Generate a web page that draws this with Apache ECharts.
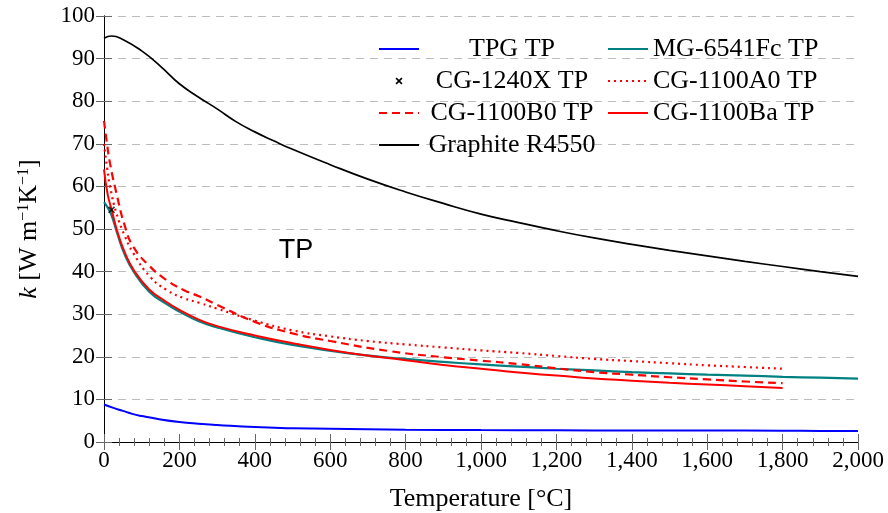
<!DOCTYPE html>
<html>
<head>
<meta charset="utf-8">
<script src="https://cdn.jsdelivr.net/npm/echarts@6/dist/echarts.min.js"></script>
<style>
  html, body { margin: 0; padding: 0; background: #fff; }
  #chart { width: 888px; height: 513px; }
</style>
</head>
<body>
<div id="chart"></div>
<script>
// 温度 [°C] 与导热系数 k [W/(m·K)]
const graphiteT = [0, 20, 50, 100, 150, 200, 250, 300, 350, 400, 450, 500, 600, 700, 800, 900, 1000, 1100, 1200, 1300, 1400, 1500, 1600, 1700, 1800, 1900, 2000]
const graphiteK = [94.8, 95.3, 94.5, 91.8, 88.2, 84.1, 81.0, 78.2, 75.2, 72.8, 70.7, 68.7, 65.1, 61.7, 58.7, 56.0, 53.5, 51.5, 49.6, 47.9, 46.4, 45.0, 43.7, 42.4, 41.2, 40.0, 38.9]

const tpgT = [0, 25, 50, 75, 100, 150, 200, 250, 300, 400, 500, 600, 800, 1000, 1200, 1400, 1600, 1800, 1900, 2000]
const tpgK = [8.8, 8.0, 7.3, 6.6, 6.1, 5.3, 4.7, 4.3, 4.0, 3.5, 3.25, 3.1, 2.9, 2.8, 2.75, 2.7, 2.7, 2.65, 2.6, 2.6]

const mgT = [0, 10, 20, 35, 55, 80, 120, 160, 200, 250, 300, 400, 500, 650, 800, 900, 1000, 1100, 1200, 1300, 1400, 1500, 1600, 1700, 1800, 1900, 2000]
const mgK = [56.3, 55.0, 53.2, 49.0, 44.0, 39.8, 35.3, 32.7, 30.6, 28.4, 26.9, 24.6, 22.8, 20.8, 19.5, 18.8, 18.2, 17.7, 17.2, 16.8, 16.4, 16.1, 15.8, 15.6, 15.3, 15.1, 14.9]

const cg1240xT = [20]
const cg1240xK = [54.5]

const a0T = [0, 8, 16, 33, 56, 78, 122, 166, 211, 255, 300, 400, 500, 600, 700, 800, 900, 1000, 1100, 1200, 1300, 1400, 1500, 1600, 1700, 1800]
const a0K = [70.0, 64.5, 60.0, 53.7, 48.2, 44.3, 38.8, 35.7, 33.8, 32.6, 31.3, 28.5, 26.2, 24.8, 23.7, 22.9, 22.2, 21.5, 20.9, 20.2, 19.5, 19.0, 18.5, 18.0, 17.6, 17.2]

const b0T = [0, 8, 16, 33, 56, 78, 122, 166, 211, 255, 300, 400, 500, 600, 760, 900, 1000, 1100, 1200, 1300, 1400, 1500, 1600, 1700, 1800]
const b0K = [75.4, 70.0, 65.4, 58.4, 50.5, 45.8, 41.2, 38.0, 35.7, 34.1, 32.2, 28.2, 25.5, 23.7, 21.3, 19.9, 19.1, 18.3, 17.3, 16.4, 15.8, 15.2, 14.7, 14.2, 13.8]

const baT = [0, 10, 20, 35, 55, 80, 120, 160, 200, 250, 300, 400, 500, 650, 800, 900, 1000, 1100, 1200, 1300, 1400, 1500, 1600, 1700, 1800]
const baK = [64.0, 58.0, 54.6, 49.5, 44.5, 40.2, 35.8, 33.2, 31.0, 28.8, 27.2, 25.0, 23.2, 20.9, 19.2, 18.1, 17.2, 16.3, 15.6, 14.9, 14.4, 13.9, 13.5, 13.1, 12.7]

const legendLeft = ['TPG TP', 'CG-1240X TP', 'CG-1100B0 TP', 'Graphite R4550']
const legendRight = ['MG-6541Fc TP', 'CG-1100A0 TP', 'CG-1100Ba TP']

const serif = 'Liberation Serif'
const zip = (xs, ys) => xs.map((x, i) => [x, ys[i]])
// 千分位格式：1,000
const fmtThousand = v => String(v).replace(/\B(?=(\d{3})+(?!\d))/g, ',')

// 粗叉号，外面留空白（M0,0 M16,16）以控制图例中的大小
const crossPath = 'path://M0,0M16,16M4,5.3L5.3,4L8,6.7L10.7,4L12,5.3L9.3,8L12,10.7L10.7,12L8,9.3L5.3,12L4,10.7L6.7,8Z'

function lineSeries(name, xs, ys, color, type, width) {
  return {
    name,
    type: 'line',
    data: zip(xs, ys),
    symbol: 'none',
    smooth: true,
    lineStyle: { color, width, type },
    itemStyle: { color },
  }
}

const legendBase = {
  orient: 'vertical',
  top: 31,
  itemWidth: 40,
  itemHeight: 14,
  itemGap: 6,
  selectedMode: false,
  // 隐藏折线图例中心的圆点
  itemStyle: { opacity: 0 },
}

const chartOptions = {
  animation: false,
  grid: { left: 104, right: 30, top: 16, bottom: 71, containLabel: false, outerBoundsMode: 'none' },
  legend: [
    {
      ...legendBase,
      left: 373,
      data: legendLeft.map(name => (name === 'CG-1240X TP' ? { name, itemStyle: { opacity: 1 } } : name)),
      formatter: name => '{c|' + name + '}',
      textStyle: {
        rich: { c: { width: 176, align: 'center', fontFamily: serif, fontSize: 26, lineHeight: 25, color: '#000' } },
      },
    },
    {
      ...legendBase,
      left: 602,
      data: legendRight,
      textStyle: { fontFamily: serif, fontSize: 26, lineHeight: 25, color: '#000' },
    },
  ],
  xAxis: [
    {
      type: 'value',
      min: 0,
      max: 2000,
      interval: 200,
      position: 'bottom',
      name: 'Temperature [°C]',
      nameLocation: 'middle',
      nameGap: 44,
      nameTextStyle: { fontFamily: serif, fontSize: 26, color: '#000' },
      axisLine: { lineStyle: { color: '#000', width: 1 } },
      axisTick: { inside: true, length: 8, lineStyle: { color: '#666' } },
      minorTick: { show: true, splitNumber: 5, length: 4, lineStyle: { color: '#666' } },
      axisLabel: { fontFamily: serif, fontSize: 23, color: '#000', margin: 7, formatter: fmtThousand },
      splitLine: { show: false },
    },
    {
      type: 'value',
      min: 0,
      max: 2000,
      interval: 200,
      position: 'top',
      axisLine: { lineStyle: { color: '#000', width: 1 } },
      axisTick: { inside: true, length: 8, lineStyle: { color: '#666' } },
      minorTick: { show: true, splitNumber: 5, length: 4, lineStyle: { color: '#666' } },
      axisLabel: { show: false },
      splitLine: { show: false },
    },
  ],
  yAxis: [
    {
      type: 'value',
      min: 0,
      max: 100,
      interval: 10,
      position: 'left',
      name: '{i|k} [W m{s|−1}K{s|−1}]',
      nameLocation: 'middle',
      nameRotate: 90,
      nameGap: 62,
      nameTextStyle: {
        fontFamily: serif,
        fontSize: 26,
        color: '#000',
        rich: {
          i: { fontFamily: serif, fontSize: 26, fontStyle: 'italic', color: '#000' },
          s: { fontFamily: serif, fontSize: 16, color: '#000', verticalAlign: 'top', padding: [0, 0, 10, 0] },
        },
      },
      axisLine: { lineStyle: { color: '#000', width: 1 } },
      axisTick: { inside: true, length: 8, lineStyle: { color: '#666' } },
      axisLabel: { fontFamily: serif, fontSize: 23, color: '#000', margin: 9 },
      splitLine: { lineStyle: { color: '#bdbdbd', width: 1, type: [8, 6] } },
    },
    {
      type: 'value',
      min: 0,
      max: 100,
      interval: 10,
      position: 'right',
      axisLine: { lineStyle: { color: '#000', width: 1 } },
      axisTick: { inside: true, length: 8, lineStyle: { color: '#666' } },
      axisLabel: { show: false },
      splitLine: { show: false },
    },
  ],
  graphic: [
    {
      type: 'text',
      x: 296,
      y: 251,
      style: { text: 'TP', fontFamily: 'Liberation Sans', fontSize: 27, fill: '#000', align: 'center', verticalAlign: 'middle' },
    },
  ],
  series: [
    lineSeries('TPG TP', tpgT, tpgK, '#0000ff', 'solid', 2),
    lineSeries('MG-6541Fc TP', mgT, mgK, '#008080', 'solid', 2.2),
    {
      name: 'CG-1240X TP',
      type: 'scatter',
      data: zip(cg1240xT, cg1240xK),
      symbol: crossPath,
      symbolSize: 14,
      symbolKeepAspect: true,
      itemStyle: { color: '#000' },
      z: 5,
    },
    lineSeries('CG-1100A0 TP', a0T, a0K, '#ff0000', [2, 4], 2.2),
    lineSeries('CG-1100B0 TP', b0T, b0K, '#ff0000', [8, 5], 2.2),
    lineSeries('CG-1100Ba TP', baT, baK, '#ff0000', 'solid', 2),
    lineSeries('Graphite R4550', graphiteT, graphiteK, '#000', 'solid', 1.7),
  ],
}

const chartInstance = echarts.init(document.getElementById('chart'))
chartInstance.setOption(chartOptions)
</script>
</body>
</html>
